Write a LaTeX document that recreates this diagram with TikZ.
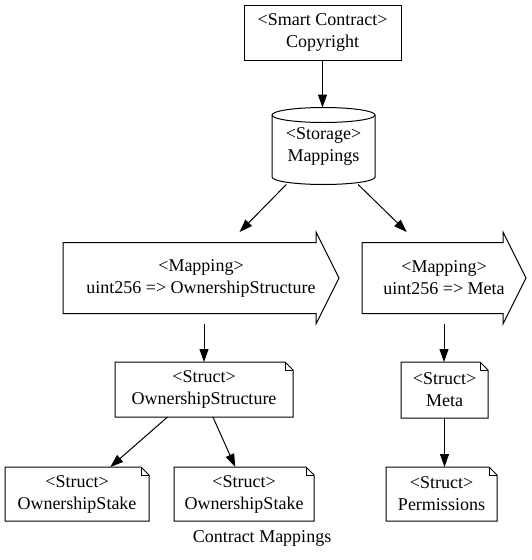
\documentclass[tikz,border=0pt]{standalone}
\usepackage{fontspec}
\setmainfont{Liberation Serif}
\usetikzlibrary{arrows.meta}
\begin{document}
\begin{tikzpicture}[x=1pt,y=-1pt,
  lbl/.style={align=center, font=\fontsize{18}{22}\selectfont, inner sep=0pt, outer sep=0pt},
  rectbox/.style={lbl, draw, line width=1pt, rectangle},
  ghost/.style={lbl, rectangle, draw=none},
  shp/.style={line width=1pt},
  edge/.style={line width=1pt, -{Triangle[length=13pt,width=9pt]}}]
\useasboundingbox (0,0) rectangle (531,560);

% nodes
\node[rectbox, minimum width=157pt, minimum height=55pt] (sc) at (322.5,32.5) {<Smart Contract>\\Copyright};
\node[ghost, minimum width=103pt, minimum height=77pt] (st) at (323.5,146) {<Storage>\\Mappings};
\node[ghost, minimum width=276pt, minimum height=92pt] (map1) at (201,278) {<Mapping>\\uint256 => OwnershipStructure};
\node[ghost, minimum width=164pt, minimum height=92pt] (map2) at (444,278) {<Mapping>\\uint256 => Meta};
\node[ghost, minimum width=178pt, minimum height=55pt] (os) at (204,389.5) {<Struct>\\OwnershipStructure};
\node[ghost, minimum width=87pt, minimum height=56pt] (meta) at (444.5,390) {<Struct>\\Meta};
\node[ghost, minimum width=144pt, minimum height=54pt] (stk1) at (77,494) {<Struct>\\OwnershipStake};
\node[ghost, minimum width=140pt, minimum height=54pt] (stk2) at (244,494) {<Struct>\\OwnershipStake};
\node[ghost, minimum width=111pt, minimum height=54pt] (perm) at (441.5,494) {<Struct>\\Permissions};
\node[lbl] (cap) at (262,538) {Contract Mappings};

% cylinder outline
\draw[shp] ([yshift=-7.5pt]st.north west) -- ([yshift=7.5pt]st.south west)
  arc (180:360:51.5pt and 7.5pt) -- ([yshift=-7.5pt]st.north east)
  arc (0:180:51.5pt and 7.5pt) -- cycle;
\draw[shp] ([yshift=-7.5pt]st.north west) arc (180:360:51.5pt and 7.5pt);

% arrow outlines
\foreach \n in {map1,map2}{
  \draw[shp] ([yshift=-10.5pt]\n.north west) -- ([xshift=-23pt,yshift=-10.5pt]\n.north east)
    -- ([xshift=-23pt]\n.north east) -- (\n.east) -- ([xshift=-23pt]\n.south east)
    -- ([xshift=-23pt,yshift=10.5pt]\n.south east) -- ([yshift=10.5pt]\n.south west) -- cycle;
}

% note outlines
\foreach \n in {os,meta,stk1,stk2,perm}{
  \draw[shp] (\n.south west) -- (\n.north west) -- ([xshift=-8pt]\n.north east)
    -- ([yshift=-8pt]\n.north east) -- (\n.south east) -- cycle;
  \draw[shp] ([xshift=-8pt]\n.north east) -- ([xshift=-8pt,yshift=-8pt]\n.north east)
    -- ([yshift=-8pt]\n.north east);
}

% edges
\draw[edge] (sc.south) -- (sc.south |- st.north);
\draw[edge] (st.226) -- (map1.50);
\draw[edge] (st.312) -- (map2.129);
\draw[edge] (map1.south -| os.north) -- (os.north);
\draw[edge] (map2.south) -- (map2.south |- meta.north);
\draw[edge] (os.217) -- (stk1.39);
\draw[edge] (os.288) -- (stk2.108);
\draw[edge] (meta.south) -- (meta.south |- perm.north);
\end{tikzpicture}
\end{document}
